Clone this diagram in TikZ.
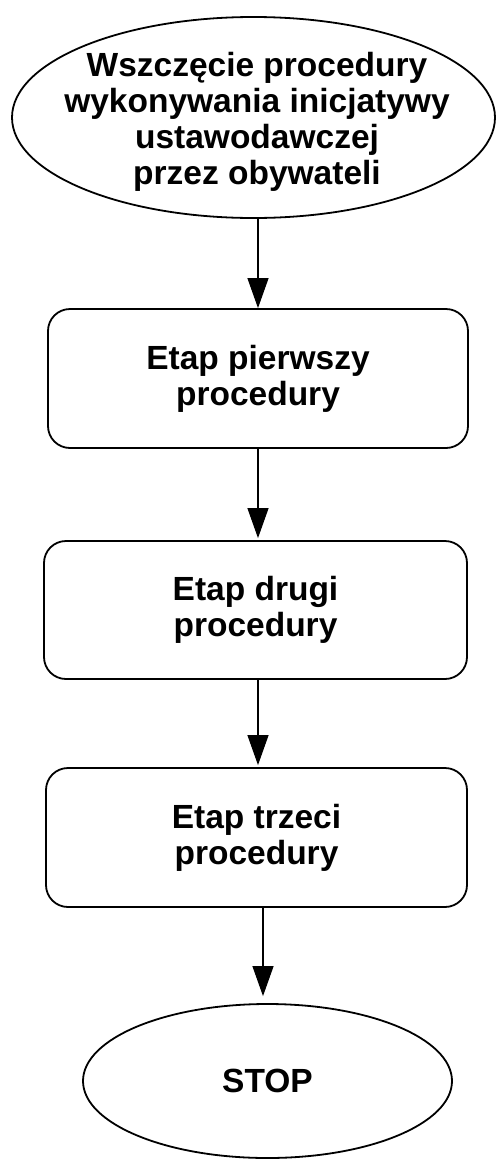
\documentclass[tikz,border=0pt]{standalone}
\usepackage{fontspec}
\setmainfont{Liberation Sans}
\usetikzlibrary{shapes.geometric,arrows.meta,calc}
\begin{document}
\begin{tikzpicture}[x=1pt,y=-1pt,
  lbl/.style={font=\fontsize{33.5}{36}\selectfont\bfseries, align=center, text=black},
  stage/.style={draw, line width=1.8pt, rounded corners=22pt, inner sep=0pt, lbl},
  term/.style={ellipse, draw, line width=1.8pt, inner sep=0pt, lbl},
  flow/.style={line width=1.1pt, -{Triangle[length=30pt,width=21pt]}}
]
\useasboundingbox (0,0) rectangle (497,1159);

% start of the procedure
\node[term, minimum width=483pt, minimum height=201pt] (start) at (253.5,117.5) {};
\node[lbl] (starttext) at (257,122) {Wszczęcie procedury\\wykonywania inicjatywy\\ustawodawczej\\przez obywateli};

% the three stages
\node[stage, minimum width=420pt, minimum height=139pt] (b1) at (258,378.5) {Etap pierwszy\\procedury};
\node[stage, minimum width=423pt, minimum height=138pt] (b2) at (255.5,610) {Etap drugi\\procedury};
\node[stage, minimum width=421pt, minimum height=139pt] (b3) at (256.5,837.5) {Etap trzeci\\procedury};

% end
\node[term, minimum width=369pt, minimum height=154pt] (stop) at (267.5,1081) {STOP};

% connectors
\draw[flow] (start.south -| b1.north) -- (b1.north);
\draw[flow, shorten >=2pt] (b1.south) -- (b1.south |- b2.north);
\draw[flow, shorten >=2pt] (b1.south |- b2.south) -- (b1.south |- b3.north);
\draw[flow, shorten >=7pt] ([xshift=6.5pt]b3.south) -- ([xshift=6.5pt]b3.south |- stop.north);
\end{tikzpicture}
\end{document}
